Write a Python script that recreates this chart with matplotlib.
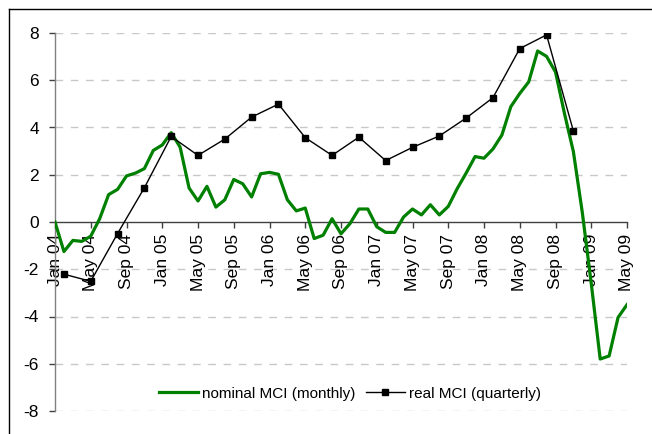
import matplotlib
matplotlib.use("Agg")
import matplotlib.pyplot as plt
from matplotlib.lines import Line2D

plt.rcParams['font.family'] = ['Liberation Sans', 'DejaVu Sans']

# ---------------- data ----------------
month_names = ["Jan", "Feb", "Mar", "Apr", "May", "Jun",
               "Jul", "Aug", "Sep", "Oct", "Nov", "Dec"]
months = [f"{month_names[m]} {y:02d}" for y in range(4, 10) for m in range(12)][:65]  # Jan 04 .. May 09

nominal_mci = [0.0, -1.25, -0.78, -0.82, -0.6, 0.14, 1.16, 1.38, 1.95, 2.07,
               2.26, 3.03, 3.26, 3.78, 3.17, 1.44, 0.89, 1.51, 0.63, 0.94,
               1.8, 1.62, 1.06, 2.04, 2.1, 2.02, 0.94, 0.47, 0.59, -0.7,
               -0.56, 0.14, -0.5, -0.07, 0.55, 0.55, -0.2, -0.44, -0.44, 0.21,
               0.55, 0.3, 0.73, 0.3, 0.66, 1.41, 2.07, 2.77, 2.7, 3.09,
               3.68, 4.88, 5.44, 5.93, 7.24, 7.01, 6.35, 4.6, 2.98, 0.4,
               -2.6, -5.8, -5.67, -4.04, -3.5]

real_months = ["Feb 04", "May 04", "Aug 04", "Nov 04", "Feb 05", "May 05", "Aug 05",
               "Nov 05", "Feb 06", "May 06", "Aug 06", "Nov 06", "Feb 07", "May 07",
               "Aug 07", "Nov 07", "Feb 08", "May 08", "Aug 08", "Nov 08"]
real_mci = [-2.21, -2.51, -0.49, 1.45, 3.62, 2.82, 3.51, 4.44, 4.99, 3.57,
            2.82, 3.59, 2.6, 3.16, 3.64, 4.4, 5.26, 7.34, 7.92, 3.85]

tick_labels = months[::4]
y_ticks = [-8, -6, -4, -2, 0, 2, 4, 6, 8]

# ---------------- plot ----------------
fig = plt.figure(figsize=(6.52, 4.34), dpi=100)
L, R, T, B = 55, 627, 33, 411
ax = fig.add_axes([L / 652, 1 - B / 434, (R - L) / 652, (B - T) / 434])

x_nom = list(range(len(months)))
x_real = [months.index(m) for m in real_months]

for g in y_ticks:
    if g != 0:
        ax.axhline(g, color="#c8c8c8", lw=1.0, linestyle=(0, (5.5, 5.5)), zorder=0)

ax.plot(x_nom, nominal_mci, color="#008000", lw=2.3, label="nominal MCI (monthly)", zorder=3)
ax.plot(x_real, real_mci, color="black", lw=1.0, marker="s", markersize=4.2,
        label="real MCI (quarterly)", zorder=4)

ax.set_xlim(0, len(months) - 1)
ax.set_ylim(-8, 8)

for s in ["top", "right"]:
    ax.spines[s].set_visible(False)
ax.spines["left"].set_color("#808080")
ax.spines["left"].set_linewidth(1.0)
ax.spines["bottom"].set_position(("data", 0))
ax.spines["bottom"].set_color("#404040")
ax.spines["bottom"].set_linewidth(1.0)

ax.set_yticks(y_ticks)
ax.set_yticklabels([str(v) for v in y_ticks])
ax.set_xticks(x_nom[::4])
ax.set_xticklabels(tick_labels, rotation=90, ha="center", va="top")

ax.tick_params(axis="y", direction="out", length=4.5, width=1.0, color="#404040",
               pad=7, labelsize=12.5)
ax.tick_params(axis="x", direction="out", length=4.5, width=1.0, color="#404040",
               pad=4, labelsize=12.5)

leg = ax.legend(loc="center", bbox_to_anchor=((350 - L) / (R - L), (-7.26 + 8) / 16),
                ncol=2, frameon=False, fontsize=11, handlelength=2.55,
                handletextpad=0.26, columnspacing=0.65)

fig.add_artist(Line2D([9 / 652, 1], [1 - 9 / 434, 1 - 9 / 434], color="black", lw=1.0))
fig.add_artist(Line2D([9 / 652, 9 / 652], [0, 1 - 9 / 434], color="black", lw=1.0))

fig.savefig("out.png", dpi=100)
